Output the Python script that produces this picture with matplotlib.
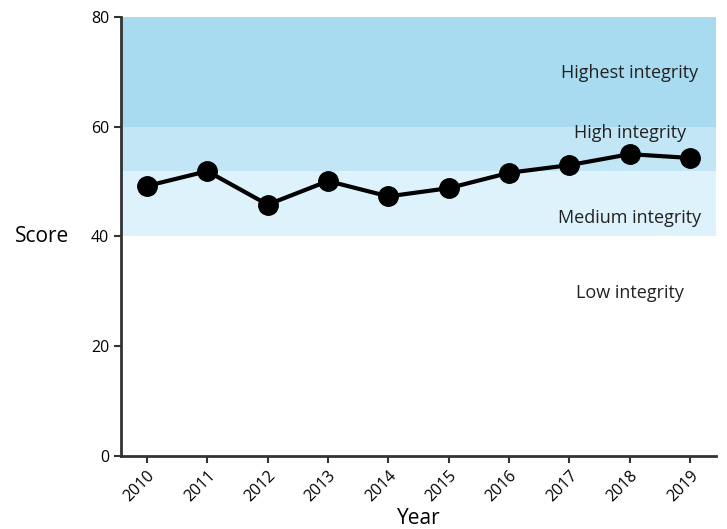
import matplotlib.pyplot as plt

plt.rcParams['font.family'] = ['Open Sans', 'DejaVu Sans']

# Integrity score by year
years = [2010, 2011, 2012, 2013, 2014, 2015, 2016, 2017, 2018, 2019]
scores = [49.2, 51.9, 45.8, 50.1, 47.3, 48.8, 51.6, 53.0, 55.0, 54.3]

# Bands: lower, upper, colour; then labels and their heights
band_lows = [60, 52, 40]
band_highs = [80, 60, 52]
band_colors = ['#a8dbf0', '#c2e6f5', '#ddf2fa']
band_labels = ['Highest integrity', 'High integrity', 'Medium integrity', 'Low integrity']
label_y = [69.8, 58.9, 43.4, 29.7]

fig = plt.figure(figsize=(7.27, 5.29), dpi=100)
ax = fig.add_axes([0.1664, 0.138, 0.8186, 0.830])

for lo, hi, c in zip(band_lows, band_highs, band_colors):
    ax.axhspan(lo, hi, color=c, lw=0, zorder=0)

ax.plot(years, scores, color='black', lw=3, marker='o', markersize=14, zorder=3)

for lab, y in zip(band_labels, label_y):
    ax.text(2018, y, lab, ha='center', va='center', fontsize=13, color='#222222')

ax.set_xlim(2009.57, 2019.43)
ax.set_ylim(0, 80)
ax.set_yticks([0, 20, 40, 60, 80])
ax.set_xticks(years)
ax.set_xticklabels([str(y) for y in years], rotation=45, ha='right', rotation_mode='anchor')
ax.tick_params(labelsize=11.5, color='#333333', length=5, width=1.5)

for s in ['top', 'right']:
    ax.spines[s].set_visible(False)
for s in ['left', 'bottom']:
    ax.spines[s].set_color('#333333')
    ax.spines[s].set_linewidth(2)

ax.set_xlabel('Year', fontsize=15, labelpad=2)
ax.set_ylabel('Score', fontsize=15, rotation=0, ha='right', va='center', labelpad=16)

fig.savefig('out.png', dpi=100)
